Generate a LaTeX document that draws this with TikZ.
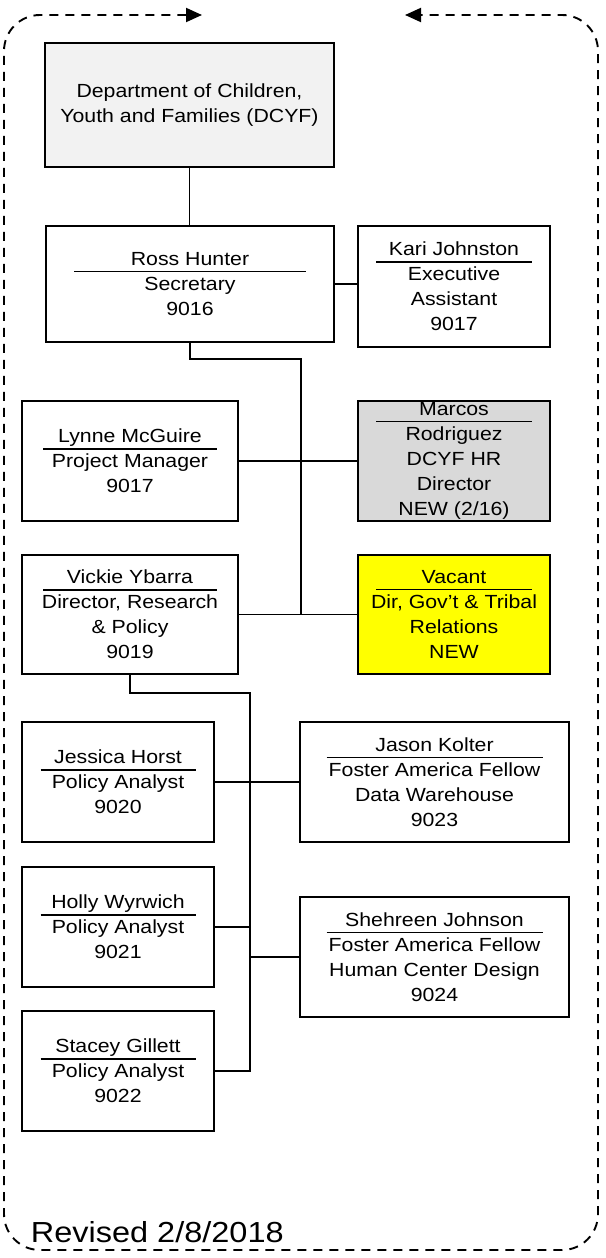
\documentclass[tikz,border=0pt]{standalone}
\usepackage{fontspec}
\setmainfont{Liberation Sans}[FakeStretch=1.12]
\usetikzlibrary{arrows.meta}
\definecolor{dcyfgray}{HTML}{F2F2F2}
\definecolor{hrgray}{HTML}{D9D9D9}
\definecolor{vacantyellow}{HTML}{FFFF00}
\newcommand{\hd}[2]{\makebox[#1pt]{#2}\llap{\rule[-6.8pt]{#1pt}{1.6pt}}}

\begin{document}
\begin{tikzpicture}[x=1pt,y=-1pt,line width=1.8pt,
      box/.style={draw,align=center,inner sep=0pt,font=\fontsize{19}{25}\selectfont},
      leftbox/.style={box,minimum width=216,minimum height=120},
      rightbox/.style={box,minimum width=192,minimum height=120},
      staffbox/.style={box,minimum width=192,minimum height=120},
      fellowbox/.style={box,minimum width=269,minimum height=120},
      frame/.style={line width=1.9pt,dash pattern=on 9pt off 7pt,rounded corners=36pt,
        {Triangle[length=16pt,width=14pt]}-{Triangle[length=16pt,width=14pt]}}]
      \useasboundingbox (0,0) rectangle (605,1258);

      \coordinate (gapL) at (202,15);
      \coordinate (gapR) at (405,15);
      \draw[frame] (gapL) -- (4,15) -- (4,1250) -- (598,1250) -- (598,15) -- (gapR);

      \node[box,fill=dcyfgray,minimum width=289,minimum height=124] (dcyf) at (189.5,105)
        {Department of Children,\\Youth and Families (DCYF)};
      \node[box,minimum width=288,minimum height=116] (ross) at (190,284)
        {\hd{232}{Ross Hunter}\\Secretary\\9016};
      \node[rightbox,minimum height=121] (kari) at (454,286.5)
        {\hd{156}{Kari Johnston}\\Executive\\Assistant\\9017};

      \node[leftbox] (lynne) at (130,461)
        {\hd{174}{Lynne McGuire}\\Project Manager\\9017};
      \node[rightbox,fill=hrgray] (marcos) at (454,461)
        {\hd{156}{Marcos}\\Rodriguez\\DCYF HR\\Director\\NEW (2/16)};
      \node[leftbox,minimum height=119] (vickie) at (130,614.5)
        {\hd{174}{Vickie Ybarra}\\Director, Research\\\& Policy\\9019};
      \node[rightbox,fill=vacantyellow,minimum height=119] (vacant) at (454,614.5)
        {\hd{156}{Vacant}\\Dir, Gov’t \& Tribal\\Relations\\NEW};

      \node[staffbox] (jessica) at (118,782)
        {\hd{155}{Jessica Horst}\\Policy Analyst\\9020};
      \node[fellowbox] (jason) at (434.5,782)
        {\hd{216}{Jason Kolter}\\Foster America Fellow\\Data Warehouse\\9023};
      \node[staffbox] (holly) at (118,927)
        {\hd{155}{Holly Wyrwich}\\Policy Analyst\\9021};
      \node[fellowbox] (shehreen) at (434.5,957)
        {\hd{216}{Shehreen Johnson}\\Foster America Fellow\\Human Center Design\\9024};
      \node[staffbox] (stacey) at (118,1071)
        {\hd{155}{Stacey Gillett}\\Policy Analyst\\9022};

      \node[anchor=base west,inner sep=0pt,font=\fontsize{29}{34}\selectfont] (revised) at (30,1242)
        {Revised 2/8/2018};

      \coordinate (hub1) at (301,359);
      \coordinate (hub2) at (250,693);

      \draw (dcyf.south) -- (dcyf.south |- ross.north);
      \draw (ross.east) -- (ross.east -| kari.west);
      \draw (ross.south) |- (hub1) -- (hub1 |- vacant.west);
      \draw (lynne.east) -- (marcos.west);
      \draw (vickie.east) -- (vacant.west);
      \draw (vickie.south) |- (hub2) |- (stacey.east);
      \draw (jessica.east) -- (jason.west);
      \draw (holly.east) -- (holly.east -| hub2);
      \draw (shehreen.west) -- (shehreen.west -| hub2);
\end{tikzpicture}
\end{document}
